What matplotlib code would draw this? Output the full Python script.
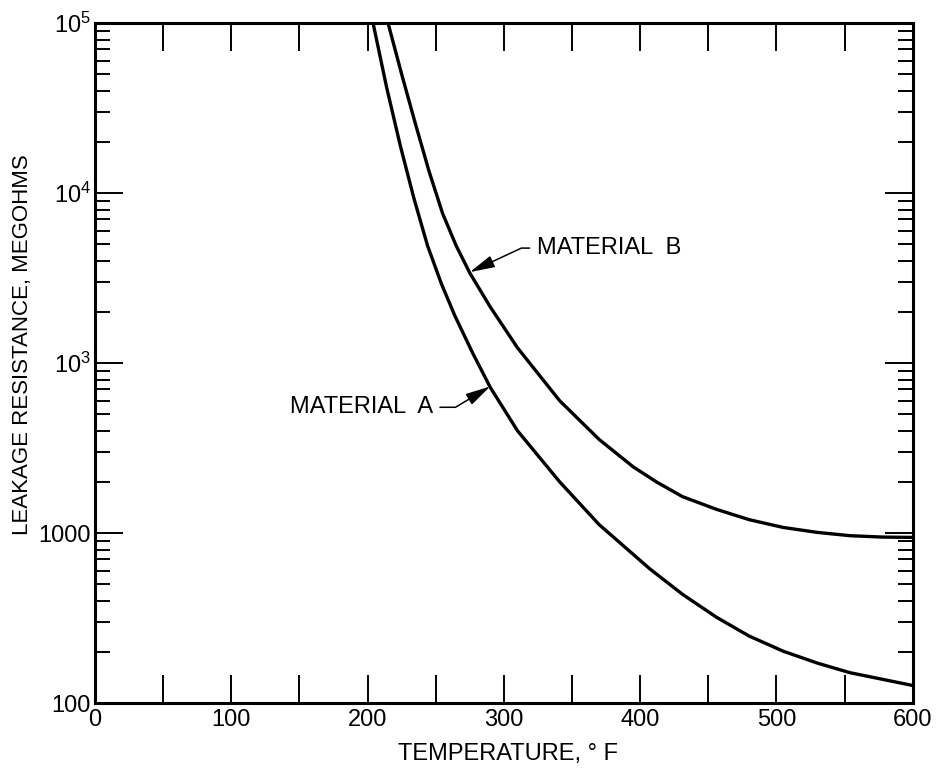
import matplotlib
matplotlib.use('Agg')
from matplotlib import pyplot as plt
from matplotlib.ticker import FixedLocator, LogLocator, NullFormatter, FixedFormatter

family = ['Liberation Sans', 'DejaVu Sans']
plt.rcParams['font.family'] = family
plt.rcParams['mathtext.fontset'] = 'custom'
plt.rcParams['mathtext.rm'] = 'Liberation Sans'
plt.rcParams['mathtext.default'] = 'regular'

# temperature (deg F) and leakage resistance
temp_a = [204, 214, 224, 234, 244, 254, 264, 277, 290, 310, 341, 370, 407, 431, 456, 480, 505,
          530, 554, 578, 600]
res_a = [1.0e6, 4.17e5, 1.9e5, 9.3e4, 4.9e4, 2.95e4, 1.9e4, 1.15e4, 7.2e3, 4.0e3, 2.0e3, 1.12e3,
         617, 437, 320, 248, 202, 172, 151, 138, 127]

temp_b = [215, 225, 235, 245, 255, 265, 275, 290, 310, 341, 370, 395, 412, 431, 456, 480, 505,
          530, 554, 578, 600]
res_b = [1.0e6, 5.0e5, 2.57e5, 1.35e5, 7.6e4, 4.9e4, 3.39e4, 2.14e4, 1.23e4, 6.0e3, 3.55e3,
         2.45e3, 2.0e3, 1.64e3, 1.38e3, 1.2e3, 1.08e3, 1.01e3, 966, 948, 944]

y_ticks = [1e2, 1e3, 1e4, 1e5, 1e6]
y_labels = ['100', '1000', r'$10^3$', r'$10^4$', r'$10^5$']

# label text position and arrow tip
label_a = ('MATERIAL  A', (248, 5.5e3), (290, 7.3e3))
label_b = ('MATERIAL  B', (324, 4.75e4), (275, 3.43e4))

fontsize = 17
lw_curve = 2.4

fig = plt.figure(figsize=(9.41, 7.71), dpi=100)
ax = fig.add_axes([0.101, 0.088, 0.869, 0.882])

ax.plot(temp_a, res_a, color='black', lw=lw_curve, solid_joinstyle='round')
ax.plot(temp_b, res_b, color='black', lw=lw_curve, solid_joinstyle='round')

ax.set_yscale('log')
ax.set_xlim(0, 600)
ax.set_ylim(1e2, 1e6)

ax.xaxis.set_major_locator(FixedLocator(range(0, 601, 50)))
ax.xaxis.set_major_formatter(FixedFormatter(['' if t % 100 else str(t) for t in range(0, 601, 50)]))
ax.yaxis.set_major_locator(FixedLocator(y_ticks))
ax.yaxis.set_major_formatter(FixedFormatter(y_labels))
ax.yaxis.set_minor_locator(LogLocator(base=10, subs=range(2, 10)))
ax.yaxis.set_minor_formatter(NullFormatter())

ax.tick_params(axis='both', which='major', direction='in', length=20, width=1.4,
               top=True, right=True, labelsize=fontsize)
ax.tick_params(axis='y', which='minor', direction='in', length=11, width=1.4, left=True, right=True)
ax.tick_params(axis='x', which='major', pad=4)
ax.tick_params(axis='y', which='major', pad=3)
for s in ax.spines.values():
    s.set_linewidth(2.2)

fig.text(0.540, 0.022, 'TEMPERATURE, ° F', ha='center', va='center', fontsize=fontsize)
fig.text(0.024, 0.553, 'LEAKAGE RESISTANCE, MEGOHMS', rotation=90, ha='center', va='center',
         fontsize=16)

ax.annotate(label_a[0], xy=label_a[2], xytext=label_a[1], ha='right', va='center', fontsize=fontsize,
            arrowprops=dict(arrowstyle='-|>,head_length=0.9,head_width=0.22', color='black', lw=1.1,
                            relpos=(1, 0.5), shrinkA=3, shrinkB=0,
                            connectionstyle='angle,angleA=0,angleB=31,rad=0'))
ax.annotate(label_b[0], xy=label_b[2], xytext=label_b[1], ha='left', va='center', fontsize=fontsize,
            arrowprops=dict(arrowstyle='-|>,head_length=0.9,head_width=0.22', color='black', lw=1.1,
                            relpos=(0, 0.5), shrinkA=3, shrinkB=0,
                            connectionstyle='angle,angleA=0,angleB=25,rad=0'))

plt.savefig('out.png', dpi=100)
